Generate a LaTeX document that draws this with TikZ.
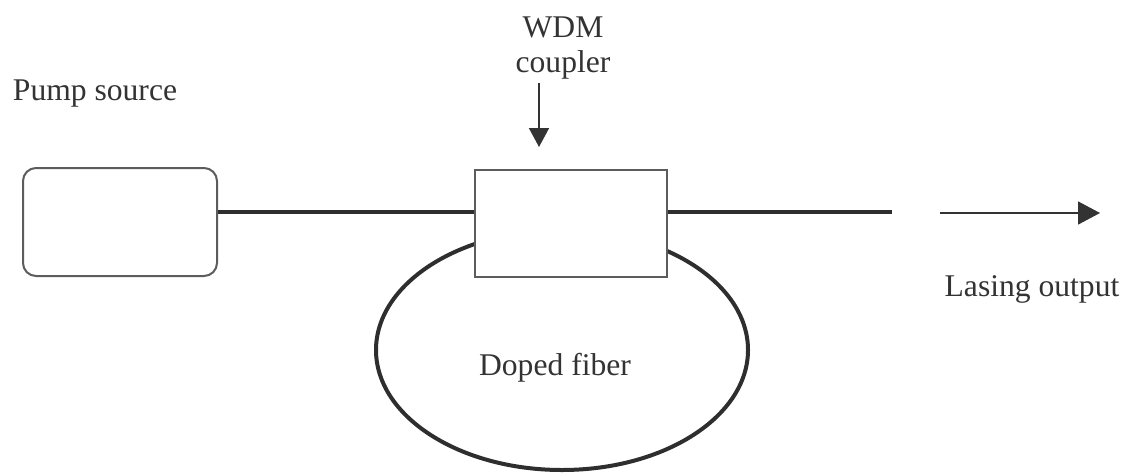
\documentclass[tikz,border=0pt]{standalone}
\usepackage{fontspec}
\setmainfont{Liberation Serif}
\usetikzlibrary{arrows.meta,shapes.geometric}
\definecolor{ink}{HTML}{333333}
\begin{document}
\begin{tikzpicture}[x=1pt,y=-1pt,
  lbl/.style={font=\fontsize{31.6}{35}\selectfont,text=ink,inner sep=0pt},
  thickline/.style={line width=4pt,draw=ink!90!black},
  boxstyle/.style={draw=ink!80,line width=2pt,fill=white,inner sep=0pt},
  thinarrow/.style={draw=ink,line width=1.6pt,-{Triangle[length=19pt,width=20pt]}}]
\useasboundingbox (0,0) rectangle (1131,472);
% doped fiber loop
\node[ellipse,draw=ink!90!black,line width=4pt,minimum width=372pt,minimum height=240pt,inner sep=0pt] (fiber) at (562,350) {};
\node[lbl] (fibertxt) at (555,368) {Doped fiber};
% pump source
\node[boxstyle,rounded corners=13pt,minimum width=194pt,minimum height=108pt] (pump) at (120,222) {};
% WDM coupler
\node[boxstyle,minimum width=192pt,minimum height=107pt] (wdm) at (571,223.5) {};
% fiber lines
\coordinate (lineend) at (892,212);
\draw[thickline] (pump.east |- 0,212) -- (wdm.west |- 0,212);
\draw[thickline] (wdm.east |- 0,212) -- (lineend);
% labels
\node[lbl,anchor=base] (pumptxt) at (95,100) {Pump source};
\node[lbl,anchor=base,align=center] (wdmtxt) at (563,72) {WDM\\coupler};
\coordinate (wdmarrowstart) at (539,83);
\coordinate (wdmarrowend) at (539,147);
\draw[thinarrow] (wdmarrowstart) -- (wdmarrowend);
% output
\coordinate (outstart) at (940,213);
\coordinate (outend) at (1100,213);
\draw[thinarrow,-{Triangle[length=22pt,width=23pt]}] (outstart) -- (outend);
\node[lbl,anchor=base] (outtxt) at (1032,296) {Lasing output};
\end{tikzpicture}
\end{document}
